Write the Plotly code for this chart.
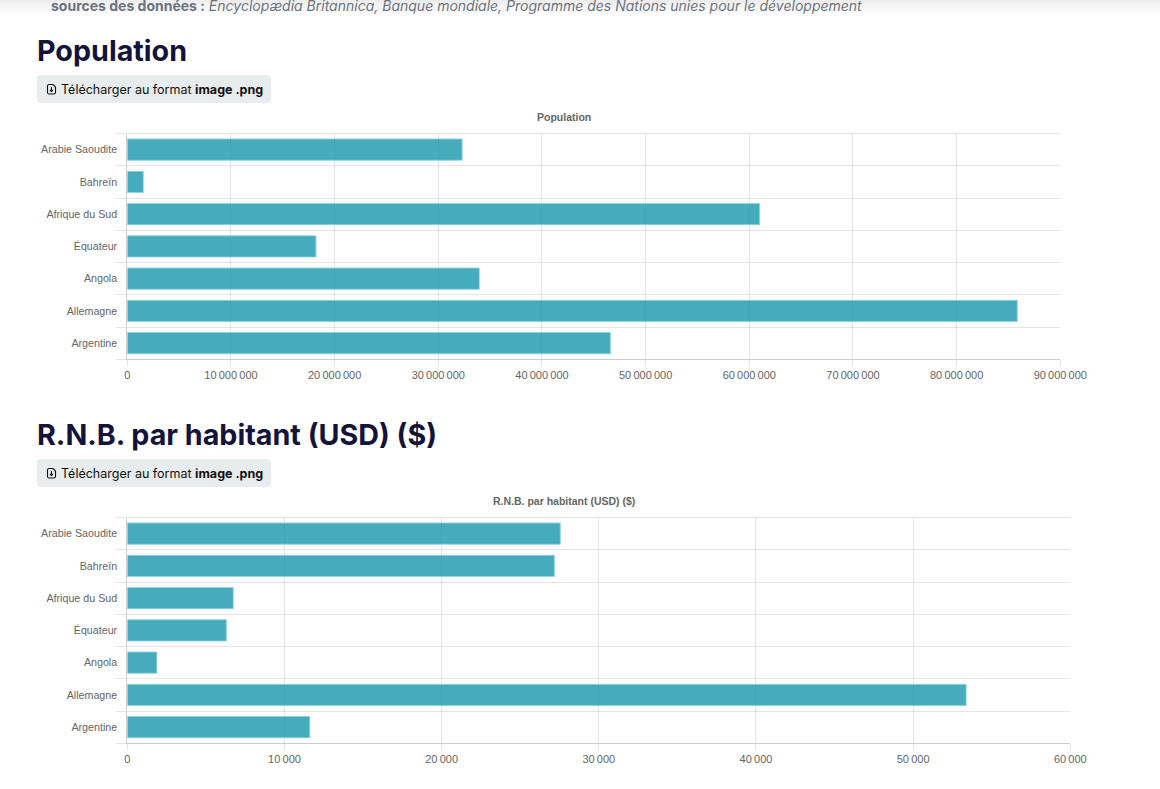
import plotly.graph_objects as go

W = 1160
H = 789

pays = ["Arabie Saoudite", "Bahreïn", "Afrique du Sud", "Équateur", "Angola", "Allemagne", "Argentine"]
rangs = [0, 1, 2, 3, 4, 5, 6]
bords = [-0.5, 0.5, 1.5, 2.5, 3.5, 4.5, 5.5, 6.5]
population = [32300000, 1540000, 61000000, 18200000, 33950000, 85850000, 46600000]
rnb = [27550, 27170, 6740, 6300, 1880, 53370, 11610]

pop_ticks = [0, 10000000, 20000000, 30000000, 40000000, 50000000, 60000000, 70000000, 80000000, 90000000]
pop_labels = ["0", "10\u202f000\u202f000", "20\u202f000\u202f000", "30\u202f000\u202f000", "40\u202f000\u202f000",
              "50\u202f000\u202f000", "60\u202f000\u202f000", "70\u202f000\u202f000", "80\u202f000\u202f000",
              "90\u202f000\u202f000"]
rnb_ticks = [0, 10000, 20000, 30000, 40000, 50000, 60000]
rnb_labels = ["0", "10\u202f000", "20\u202f000", "30\u202f000", "40\u202f000", "50\u202f000", "60\u202f000"]

BAR = "rgba(23,150,172,0.8)"
BAR_EDGE = "rgba(150,212,222,0.9)"
GRID = "rgba(0,0,0,0.1)"
AXIS = "rgba(0,0,0,0.2)"
GREY = "#666666"
NAVY = "#14143a"


# pixels de la page -> coordonnees paper
def px(x):
    return x / W


def py(y):
    return 1 - y / H


fig = go.Figure()

fig.add_trace(go.Bar(x=population, y=rangs, orientation="h", width=0.66, xaxis="x", yaxis="y",
                     marker=dict(color=BAR, line=dict(color=BAR_EDGE, width=1))))
fig.add_trace(go.Bar(x=rnb, y=rangs, orientation="h", width=0.66, xaxis="x2", yaxis="y2",
                     marker=dict(color=BAR, line=dict(color=BAR_EDGE, width=1))))


def x_axis(ticks, labels, left, right, anchor):
    return dict(domain=[px(left), px(right)], range=[ticks[0], ticks[-1]], anchor=anchor, automargin=False,
                tickmode="array", tickvals=ticks, ticktext=labels,
                ticks="outside", ticklen=6, tickcolor=GRID, tickwidth=1, ticklabelstandoff=-1,
                showgrid=True, gridcolor=GRID, gridwidth=1, zeroline=False,
                showline=True, linecolor=AXIS, linewidth=1,
                tickfont=dict(family="Liberation Sans", size=11, color=GREY))


def y_axis(top, bottom, anchor):
    return dict(domain=[py(bottom), py(top)], anchor=anchor, automargin=False,
                range=[bords[-1], bords[0]],
                tickmode="array", tickvals=rangs, ticktext=pays, ticks="", ticklabelstandoff=7,
                showgrid=False, zeroline=False,
                minor=dict(tickmode="array", tickvals=bords, ticks="outside", ticklen=10,
                           tickcolor=GRID, tickwidth=1, showgrid=True, gridcolor=GRID, gridwidth=1),
                showline=True, linecolor=AXIS, linewidth=1,
                tickfont=dict(family="Liberation Sans", size=10.7, color=GREY))


shapes = []
annotations = []


def texte(x, y, s, font, size, color, anchor="left"):
    annotations.append(dict(x=px(x), y=py(y), xref="paper", yref="paper", text=s, showarrow=False,
                            xanchor=anchor, yanchor="middle", align=anchor, borderpad=0, borderwidth=0,
                            font=dict(family=font, size=size, color=color)))


def bouton(y):
    # fond arrondi du bouton
    x0, x1, y0, y1, r = px(37), px(271), py(y), py(y + 28), 4
    rx, ry = r / W, r / H
    path = (f"M {x0 + rx} {y0} L {x1 - rx} {y0} Q {x1} {y0} {x1} {y0 - ry} "
            f"L {x1} {y1 + ry} Q {x1} {y1} {x1 - rx} {y1} L {x0 + rx} {y1} "
            f"Q {x0} {y1} {x0} {y1 + ry} L {x0} {y0 - ry} Q {x0} {y0} {x0 + rx} {y0} Z")
    shapes.append(dict(type="path", path=path, xref="paper", yref="paper",
                       fillcolor="#e8ecec", line=dict(width=0), layer="below"))
    # petite icone de fichier avec fleche
    doc = (f"M {px(49)} {py(y + 9.5)} L {px(53)} {py(y + 9.5)} L {px(55.5)} {py(y + 12)} "
           f"L {px(55.5)} {py(y + 17.5)} Q {px(55.5)} {py(y + 19)} {px(54)} {py(y + 19)} "
           f"L {px(49)} {py(y + 19)} Q {px(47.5)} {py(y + 19)} {px(47.5)} {py(y + 17.5)} "
           f"L {px(47.5)} {py(y + 11)} Q {px(47.5)} {py(y + 9.5)} {px(49)} {py(y + 9.5)} Z")
    fleche = (f"M {px(51.5)} {py(y + 12)} L {px(51.5)} {py(y + 16.5)} "
              f"M {px(50)} {py(y + 15)} L {px(51.5)} {py(y + 16.5)} L {px(53)} {py(y + 15)}")
    for p in [doc, fleche]:
        shapes.append(dict(type="path", path=p, xref="paper", yref="paper",
                           line=dict(color="#111111", width=1.1)))
    texte(60.5, y + 14, "Télécharger au format <b>image .png</b>", "Inter", 12.5, "#111111")


# ligne du haut de la grille, que plotly enleve au bord de l'axe
for ax in ["", "2"]:
    shapes.append(dict(type="line", x0=0, x1=1, y0=1, y1=1, xref=f"x{ax} domain", yref=f"y{ax} domain",
                       line=dict(color=GRID, width=1)))

# ombre du bandeau en haut de page
for i, a in enumerate([0.07, 0.055, 0.045, 0.035, 0.025, 0.018, 0.01, 0.005]):
    shapes.append(dict(type="rect", x0=0, x1=1, y0=py(i * 2), y1=py(2 + i * 2), xref="paper", yref="paper",
                       fillcolor=f"rgba(0,0,0,{a})", line=dict(width=0), layer="below"))

texte(51, 6, "<b>sources des données :</b> <i>Encyclopædia Britannica, Banque mondiale, "
             "Programme des Nations unies pour le développement</i>", "Inter", 14, "#6b7280")

texte(36.8, 50.5, "<b>Population</b>", "Inter", 28.7, NAVY)
bouton(75)
texte(563.5, 117, "<b>Population</b>", "Liberation Sans", 10.5, GREY, "center")

texte(36.8, 434.5, "<b>R.N.B. par habitant (USD) ($)</b>", "Inter", 28.7, NAVY)
bouton(459)
texte(563.5, 501, "<b>R.N.B. par habitant (USD) ($)</b>", "Liberation Sans", 10.5, GREY, "center")

fig.update_layout(
    width=W, height=H, margin=dict(l=0, r=0, t=0, b=0, pad=0), autosize=False,
    paper_bgcolor="white", plot_bgcolor="white", showlegend=False,
    xaxis=x_axis(pop_ticks, pop_labels, 127.3, 1060.3, "y"),
    yaxis=y_axis(133.5, 359.3, "x"),
    xaxis2=x_axis(rnb_ticks, rnb_labels, 127.3, 1070.3, "y2"),
    yaxis2=y_axis(517.5, 743.3, "x2"),
    shapes=shapes, annotations=annotations,
)

fig.write_html("out.html", config=dict(displayModeBar=False),
               post_script="document.body.style.margin='0';document.body.style.overflow='hidden';")
